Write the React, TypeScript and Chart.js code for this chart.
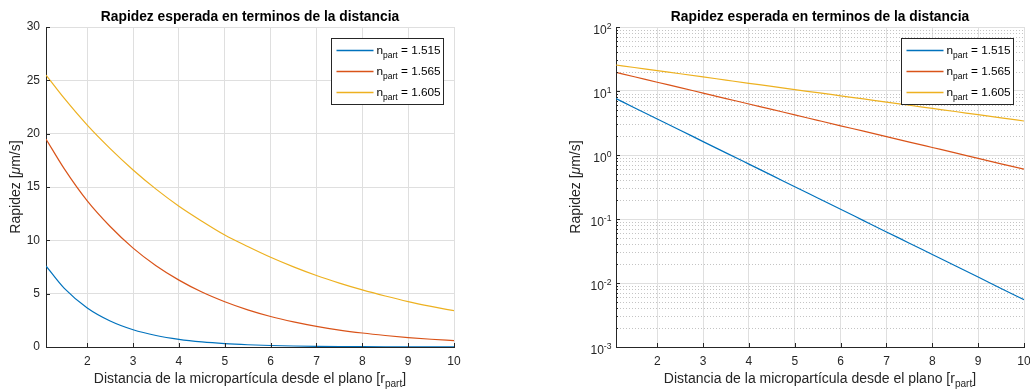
import React, { useEffect, useRef } from "react";
import { Chart, registerables } from "chart.js";

Chart.register(...registerables);

// Distance from the plane, in particle radii
const distance = [1.1, 1.5, 2, 2.5, 3, 3.5, 4, 4.5, 5, 5.5, 6, 6.5, 7, 7.5, 8, 8.5, 9, 9.5, 10];

// Expected speed [µm/s] for each particle refractive index
const speed1515 = [7.6, 5.49, 3.66, 2.44, 1.62, 1.08, 0.72, 0.48, 0.319, 0.213, 0.142, 0.0944, 0.0628, 0.0419, 0.0279, 0.0186, 0.0124, 0.0082, 0.0055];
const speed1565 = [19.5, 16.7, 13.7, 11.3, 9.27, 7.62, 6.27, 5.15, 4.24, 3.48, 2.86, 2.36, 1.94, 1.59, 1.31, 1.08, 0.885, 0.728, 0.6];
const speed1605 = [25.5, 23.3, 20.8, 18.6, 16.6, 14.8, 13.2, 11.8, 10.5, 9.42, 8.41, 7.51, 6.7, 5.99, 5.35, 4.78, 4.26, 3.81, 3.4];

const seriesValues = [speed1515, speed1565, speed1605];
const seriesLabels = ["1.515", "1.565", "1.605"];
const seriesColors = ["#0072BD", "#D95319", "#EDB120"];

const xTicks = [2, 3, 4, 5, 6, 7, 8, 9, 10];
const xRange = [1.1, 10];
const linearYTicks = [0, 5, 10, 15, 20, 25, 30];
const logDecades = [-3, -2, -1, 0, 1, 2];

const chartTitle = "Rapidez esperada en terminos de la distancia";

type Seg = { t: string; sub?: boolean; sup?: boolean; italic?: boolean };

const xTitle: Seg[] = [{ t: "Distancia de la micropartícula desde el plano [r" }, { t: "part", sub: true }, { t: "]" }];
const yTitle: Seg[] = [{ t: "Rapidez [" }, { t: "\u03bc", italic: true }, { t: "m/s]" }];

const FONT = '"Liberation Sans", Arial, Helvetica, sans-serif';
const AXIS_COLOR = "#262626";
const GRID_COLOR = "#dfdfdf";
const MINOR_GRID_COLOR = "#c4c4c4";

const PANEL_W = 515;
const PANEL_H = 391;

function drawRich(
  ctx: CanvasRenderingContext2D,
  segs: Seg[],
  x: number,
  y: number,
  size: number,
  align: "left" | "center" | "right",
  color: string,
  bold = false
) {
  const fontFor = (s: Seg) => {
    const sz = s.sub || s.sup ? size * 0.72 : size;
    return `${s.italic ? "italic " : ""}${bold ? "bold " : ""}${sz}px ${FONT}`;
  };
  let total = 0;
  for (const s of segs) {
    ctx.font = fontFor(s);
    total += ctx.measureText(s.t).width;
  }
  let cx = align === "center" ? x - total / 2 : align === "right" ? x - total : x;
  ctx.textAlign = "left";
  ctx.textBaseline = "alphabetic";
  ctx.fillStyle = color;
  for (const s of segs) {
    ctx.font = fontFor(s);
    const dy = s.sub ? size * 0.3 : s.sup ? -size * 0.4 : 0;
    ctx.fillText(s.t, cx, y + dy);
    cx += ctx.measureText(s.t).width;
  }
}

function decorations(logScale: boolean) {
  return {
    id: "axesDecor",
    beforeDatasetsDraw(chart: any) {
      if (!logScale) return;
      const { ctx, chartArea: a } = chart;
      const y = chart.scales.y;
      ctx.save();
      ctx.strokeStyle = MINOR_GRID_COLOR;
      ctx.lineWidth = 1;
      ctx.setLineDash([1, 2]);
      for (const e of logDecades.slice(0, -1)) {
        for (let m = 2; m <= 9; m++) {
          const py = Math.round(y.getPixelForValue(m * Math.pow(10, e))) + 0.5;
          ctx.beginPath();
          ctx.moveTo(a.left + 1, py);
          ctx.lineTo(a.right, py);
          ctx.stroke();
        }
      }
      ctx.restore();
    },
    afterDraw(chart: any) {
      const { ctx, chartArea: a } = chart;
      const xs = chart.scales.x;
      const ys = chart.scales.y;
      const cx = (a.left + a.right) / 2;
      const cy = (a.top + a.bottom) / 2;
      ctx.save();

      // inward tick marks
      ctx.strokeStyle = AXIS_COLOR;
      ctx.lineWidth = 1;
      ctx.beginPath();
      for (const v of xTicks) {
        const px = Math.round(xs.getPixelForValue(v)) + 0.5;
        ctx.moveTo(px, a.bottom);
        ctx.lineTo(px, a.bottom - 4);
      }
      const yMajor = logScale ? logDecades.map((e) => Math.pow(10, e)) : linearYTicks;
      for (const v of yMajor) {
        const py = Math.round(ys.getPixelForValue(v)) + 0.5;
        ctx.moveTo(a.left, py);
        ctx.lineTo(a.left + 4, py);
      }
      if (logScale) {
        for (const e of logDecades.slice(0, -1)) {
          for (let m = 2; m <= 9; m++) {
            const py = Math.round(ys.getPixelForValue(m * Math.pow(10, e))) + 0.5;
            ctx.moveTo(a.left, py);
            ctx.lineTo(a.left + 2, py);
          }
        }
      }
      ctx.stroke();

      // decade labels with superscript exponents
      if (logScale) {
        for (const e of logDecades) {
          const py = ys.getPixelForValue(Math.pow(10, e));
          drawRich(ctx, [{ t: "10" }, { t: String(e), sup: true }], a.left - 4.5, py + 7, 12, "right", AXIS_COLOR);
        }
      }

      // title
      ctx.font = `bold 13.8px ${FONT}`;
      ctx.fillStyle = "#000";
      ctx.textAlign = "center";
      ctx.textBaseline = "alphabetic";
      ctx.fillText(chartTitle, cx, 21);

      // axis titles
      drawRich(ctx, xTitle, cx, 383, 14, "center", AXIS_COLOR);
      ctx.save();
      ctx.translate(a.left - (logScale ? 36.5 : 26.5), cy);
      ctx.rotate(-Math.PI / 2);
      drawRich(ctx, yTitle, 0, 0, 14, "center", AXIS_COLOR);
      ctx.restore();

      // legend
      const bw = 112;
      const bh = 66;
      const bx = Math.round(a.right - 11 - bw) + 0.5;
      const by = Math.round(a.top + 10.5) + 0.5;
      ctx.fillStyle = "#fff";
      ctx.fillRect(bx, by, bw, bh);
      ctx.strokeStyle = AXIS_COLOR;
      ctx.lineWidth = 1;
      ctx.strokeRect(bx, by, bw, bh);
      seriesLabels.forEach((label, i) => {
        const ly = Math.round(by + 11.5 + i * 21) + 0.5;
        ctx.strokeStyle = seriesColors[i];
        ctx.lineWidth = 1.3;
        ctx.beginPath();
        ctx.moveTo(bx + 5, ly);
        ctx.lineTo(bx + 42, ly);
        ctx.stroke();
        drawRich(ctx, [{ t: "n" }, { t: "part", sub: true }, { t: " = " + label }], bx + 45, ly + 3.5, 11.8, "left", "#000");
      });

      ctx.restore();
    },
  };
}

function buildConfig(logScale: boolean): any {
  const datasets = seriesValues.map((vals, i) => ({
    label: seriesLabels[i],
    data: distance.map((x, j) => ({ x, y: vals[j] })),
    borderColor: seriesColors[i],
    backgroundColor: seriesColors[i],
    borderWidth: 1.2,
    pointRadius: 0,
    cubicInterpolationMode: "monotone",
    fill: false,
  }));

  const tickFont = { family: FONT, size: 12 };

  const yScale: any = logScale
    ? {
        type: "logarithmic",
        min: 1e-3,
        max: 1e2,
        afterBuildTicks: (s: any) => {
          s.ticks = logDecades.map((e) => ({ value: Math.pow(10, e), major: true }));
        },
        ticks: { display: false },
      }
    : {
        type: "linear",
        min: 0,
        max: 30,
        afterBuildTicks: (s: any) => {
          s.ticks = linearYTicks.map((v) => ({ value: v }));
        },
        ticks: { font: tickFont, color: AXIS_COLOR, padding: 6 },
      };

  yScale.grid = { color: GRID_COLOR, drawTicks: false, lineWidth: 1 };
  yScale.border = { display: true, color: AXIS_COLOR, width: 1 };
  yScale.afterFit = (s: any) => {
    s.width = logScale ? 101 : 46;
    s.paddingTop = 0;
    s.paddingBottom = 0;
  };

  return {
    type: "line",
    data: { datasets },
    options: {
      responsive: false,
      animation: false,
      devicePixelRatio: 1,
      layout: { padding: { top: 27, right: logScale ? 6 : 61, bottom: 0, left: 0 } },
      plugins: { legend: { display: false }, title: { display: false }, tooltip: { enabled: false } },
      scales: {
        x: {
          type: "linear",
          min: xRange[0],
          max: xRange[1],
          afterBuildTicks: (s: any) => {
            s.ticks = xTicks.map((v) => ({ value: v }));
          },
          afterFit: (s: any) => {
            s.height = 44;
            s.paddingLeft = 0;
            s.paddingRight = 0;
          },
          ticks: { font: tickFont, color: AXIS_COLOR, padding: 7, maxRotation: 0 },
          grid: { color: GRID_COLOR, drawTicks: false, lineWidth: 1 },
          border: { display: true, color: AXIS_COLOR, width: 1 },
        },
        y: yScale,
      },
    },
    plugins: [decorations(logScale)],
  };
}

function SpeedPanel({ logScale }: { logScale: boolean }) {
  const ref = useRef<HTMLCanvasElement>(null);
  useEffect(() => {
    if (!ref.current) return;
    const chart = new Chart(ref.current, buildConfig(logScale));
    return () => chart.destroy();
  }, [logScale]);
  return (
    <canvas
      ref={ref}
      width={PANEL_W}
      height={PANEL_H}
      style={{ position: "absolute", left: logScale ? PANEL_W : 0, top: 0, width: PANEL_W, height: PANEL_H }}
    />
  );
}

export default function App() {
  return (
    <div style={{ position: "fixed", left: 0, top: 0, width: 1030, height: 391, background: "#fff", overflow: "hidden" }}>
      <SpeedPanel logScale={false} />
      <SpeedPanel logScale={true} />
    </div>
  );
}
